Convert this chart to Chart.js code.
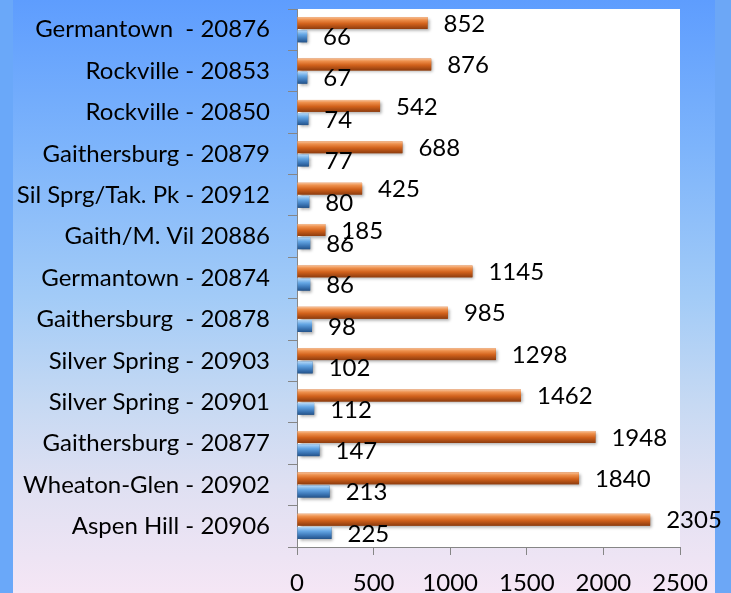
<!DOCTYPE html>
<html>
<head>
<meta charset="utf-8">
<script src="https://cdn.jsdelivr.net/npm/chart.js@4"></script>
<style>
  html, body { margin: 0; padding: 0; }
  body {
    width: 731px; height: 593px; position: relative; overflow: hidden;
    background: linear-gradient(to bottom, #5e9dfe 0%, #7db4fb 25%, #a2cbf7 50%, #c6d9f3 68%, #dfe0f2 82%, #f5e6f5 100%);
  }
  .strip { position: absolute; top: 0; height: 593px; }
  #left { left: 0; width: 13px; background: #6aa8f9; }
  #right { left: 715px; width: 16px; background: #6ca7f6; }
  #wrap { position: absolute; left: 0; top: 0; width: 731px; height: 593px; }
</style>
</head>
<body>
<div class="strip" id="left"></div>
<div class="strip" id="right"></div>
<div id="wrap"><canvas id="zipChart"></canvas></div>
<script>
// zip code areas, top to bottom
const areas = [
    'Germantown  - 20876', 'Rockville - 20853', 'Rockville - 20850', 'Gaithersburg - 20879',
    'Sil Sprg/Tak. Pk - 20912', 'Gaith/M. Vil 20886', 'Germantown - 20874', 'Gaithersburg  - 20878',
    'Silver Spring - 20903', 'Silver Spring - 20901', 'Gaithersburg - 20877', 'Wheaton-Glen - 20902',
    'Aspen Hill - 20906'
];
const orangeValues = [852, 876, 542, 688, 425, 185, 1145, 985, 1298, 1462, 1948, 1840, 2305];
const blueValues = [66, 67, 74, 77, 80, 86, 86, 98, 102, 112, 147, 213, 225];
const xTicks = [0, 500, 1000, 1500, 2000, 2500];

const FONT = "Lato, 'Open Sans', sans-serif";

// white plot area
const plotBg = {
    id: 'plotBg',
    beforeDraw(chart) {
        const { ctx, chartArea: a } = chart;
        ctx.save();
        ctx.fillStyle = '#ffffff';
        ctx.fillRect(a.left, a.top, a.right - a.left, a.bottom - a.top);
        ctx.restore();
    }
};

// cylinder shading + value labels
const shadeAndLabel = {
    id: 'shadeAndLabel',
    afterDatasetsDraw(chart) {
        const ctx = chart.ctx;
        const palettes = [
            [['#f7c29a', 0], ['#ee904c', 0.22], ['#d2621c', 0.55], ['#8e3c0e', 1]],
            [['#b5d8f7', 0], ['#64a6e4', 0.35], ['#3d78b8', 0.7], ['#24538a', 1]]
        ];
        chart.data.datasets.forEach((ds, di) => {
            const meta = chart.getDatasetMeta(di);
            meta.data.forEach((el, i) => {
                const p = el.getProps(['x', 'y', 'base', 'height'], true);
                const top = p.y - p.height / 2;
                const g = ctx.createLinearGradient(0, top, 0, top + p.height);
                palettes[di].forEach(s => g.addColorStop(s[1], s[0]));
                ctx.save();
                ctx.shadowColor = 'rgba(0,0,0,0.35)';
                ctx.shadowOffsetX = 2;
                ctx.shadowOffsetY = 2;
                ctx.shadowBlur = 3;
                ctx.fillStyle = g;
                ctx.fillRect(p.base, top, p.x - p.base, p.height);
                ctx.restore();

                ctx.save();
                ctx.fillStyle = '#000000';
                ctx.font = '24px ' + FONT;
                ctx.textAlign = 'left';
                ctx.textBaseline = 'middle';
                ctx.fillText(String(ds.data[i]), p.x + 16, p.y + 1);
                ctx.restore();
            });
        });
    }
};

new Chart(document.getElementById('zipChart'), {
    type: 'bar',
    data: {
        labels: areas,
        datasets: [
            { label: 'Total', data: orangeValues, backgroundColor: '#d2621c', categoryPercentage: 0.64, barPercentage: 0.9 },
            { label: 'Count', data: blueValues, backgroundColor: '#3d78b8', categoryPercentage: 0.64, barPercentage: 0.9 }
        ]
    },
    options: {
        indexAxis: 'y',
        responsive: true,
        maintainAspectRatio: false,
        animation: false,
        layout: { padding: { top: 9, right: 51, left: 0, bottom: 0 } },
        plugins: {
            legend: { display: false },
            tooltip: { enabled: false }
        },
        scales: {
            x: {
                min: 0,
                max: 2500,
                afterBuildTicks(scale) { scale.ticks = xTicks.map(v => ({ value: v })); },
                afterFit(scale) { scale.height = 46; },
                border: { color: '#868686', width: 1 },
                grid: { drawOnChartArea: false, tickLength: 8, color: '#868686' },
                ticks: {
                    color: '#000000', padding: 14,
                    font: { family: FONT, size: 24 },
                    callback: v => String(v)
                }
            },
            y: {
                afterFit(scale) {
                    scale.width = 297;
                    scale.paddingTop = 0;
                    scale.paddingBottom = 0;
                },
                border: { color: '#868686', width: 1 },
                grid: { drawOnChartArea: false, tickLength: 9, color: '#868686', offset: true },
                ticks: { color: '#000000', padding: 18, font: { family: FONT, size: 24 } }
            }
        }
    },
    plugins: [plotBg, shadeAndLabel]
});
</script>
</body>
</html>
